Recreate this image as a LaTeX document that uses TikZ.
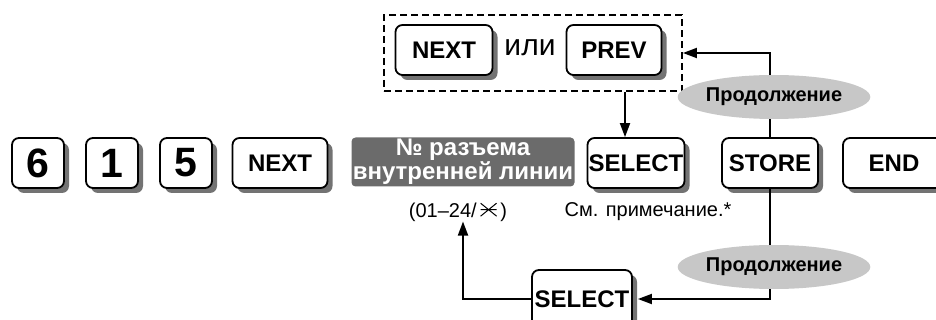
\documentclass[tikz,border=0pt]{standalone}
\usepackage{fontspec}
\setmainfont{Liberation Sans}
\usetikzlibrary{positioning, arrows.meta, shapes.geometric, shadows}

% key symbol (X with a bar), drawn since no font has it
\newcommand{\starkey}{\tikz[baseline=0pt, x=1pt, y=1pt, line width=1pt]{\draw (0,1) -- (16,14) (0,14) -- (16,1) (0,7.5) -- (16,7.5);}}

\begin{document}
\begin{tikzpicture}[x=1pt, y=-1pt,
    keybox/.style={draw, line width=1.8pt, rounded corners=7pt, fill=white,
      minimum height=50pt, inner sep=0pt, font=\fontsize{24}{27}\selectfont\bfseries,
      drop shadow={shadow xshift=5pt, shadow yshift=-5pt, fill=black!55, opacity=1}},
    digitbox/.style={keybox, minimum width=52pt, font=\fontsize{41}{44}\selectfont\bfseries},
    contbox/.style={ellipse, fill=black!22, minimum width=168pt, minimum height=44pt,
      inner sep=0pt, font=\fontsize{20}{24}\selectfont\bfseries},
    flow/.style={line width=1.8pt, -{Triangle[length=14pt, width=10pt]}},
    notetext/.style={font=\fontsize{20}{24}\selectfont, inner sep=0pt}]
  \clip (0,0) rectangle (936,320);
  % main row
  \node[digitbox] (k6) at (38,163) {6};
  \node[digitbox] (k1) at (112,163) {1};
  \node[digitbox] (k5) at (186,163) {5};
  \node[keybox, minimum width=95pt] (kNext) at (280,163) {NEXT};
  \node[fill=black!58, rounded corners=4pt, text=white, align=center,
    minimum width=223pt, minimum height=49pt, inner sep=0pt,
    font=\fontsize{24}{18}\selectfont\bfseries] (jack) at (463,162) {№ разъема\\внутренней линии};
  \node[keybox, minimum width=97pt] (kSelect) at (636,163) {SELECT};
  \node[keybox, minimum width=96pt] (kStore) at (770,163) {STORE};
  \node[keybox, minimum width=102pt] (kEnd) at (894,163) {END};
  \node[notetext] (range) at (458,212) {(01–24/\,\starkey\,)};
  \node[notetext] (seenote) at (648,212) {См. примечание.*};
  % NEXT or PREV
  \node[keybox, minimum width=97pt] (tNext) at (444,50) {NEXT};
  \node[font=\fontsize{30}{34}\selectfont] (ili) at (530,48) {или};
  \node[keybox, minimum width=95pt] (tPrev) at (614,50) {PREV};
  \node[draw, dash pattern=on 7pt off 4pt, line width=1.8pt, minimum width=298pt,
    minimum height=76pt] (grp) at (533,53) {};
  % bottom SELECT
  \node[keybox, minimum width=100pt, minimum height=58pt] (kSel2) at (582,299) {SELECT};
  % connectors
  \coordinate (dropx) at (625,0);
  \draw[flow] (grp.south -| dropx) -- (dropx |- kSelect.north);
  \draw[flow] (kStore.north) |- (grp.east);
  \draw[flow] (kStore.south) |- ([xshift=5pt]kSel2.east);
  \draw[flow] (kSel2.west) -| ([xshift=5pt]range.south);
  \node[contbox] (contTop) at (774,97) {Продолжение};
  \node[contbox] (contBot) at (774,267) {Продолжение};
\end{tikzpicture}
\end{document}
